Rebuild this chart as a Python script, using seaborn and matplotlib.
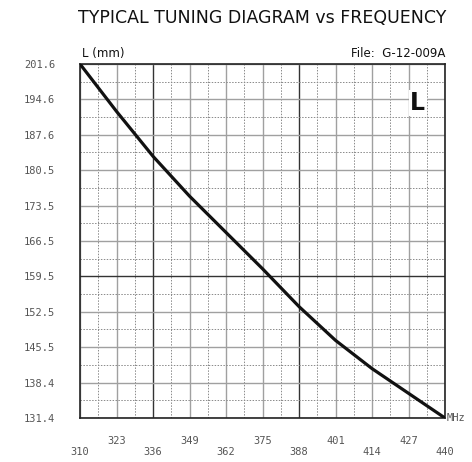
import numpy as np
import pandas as pd
import matplotlib
matplotlib.use("Agg")
import matplotlib.pyplot as plt
import seaborn as sns

# frequency (MHz) and tuning length L (mm)
freq = [310, 323, 336, 349, 362, 375, 388, 401, 414, 427, 440]
length = [201.6, 192.2, 183.3, 175.4, 168.2, 161.0, 153.5, 146.8, 141.2, 136.3, 131.4]

x_ticks = [310, 323, 336, 349, 362, 375, 388, 401, 414, 427, 440]
y_ticks = [131.4, 138.4, 145.5, 152.5, 159.5, 166.5, 173.5, 180.5, 187.6, 194.6, 201.6]

df = pd.DataFrame({"freq": freq, "length": length})

sns.set_style("white")
fig = plt.figure(figsize=(4.72, 4.62), dpi=100)
ax = fig.add_axes([0.1695, 0.0952, 0.7733, 0.7663])

# grid: solid at ticks, dotted halfway
for i, xv in enumerate(x_ticks):
    col = "#333333" if xv in (336, 388) else "#a0a0a0"
    ax.axvline(xv, color=col, lw=1.0, zorder=1)
    if i < len(x_ticks) - 1:
        ax.axvline((xv + x_ticks[i + 1]) / 2, color="#8a8a8a", lw=0.7, ls=(0, (1.5, 1.5)), zorder=1)
for i, yv in enumerate(y_ticks):
    col = "#333333" if yv == 159.5 else "#a0a0a0"
    ax.axhline(yv, color=col, lw=1.0, zorder=1)
    if i < len(y_ticks) - 1:
        ax.axhline((yv + y_ticks[i + 1]) / 2, color="#8a8a8a", lw=0.7, ls=(0, (1.5, 1.5)), zorder=1)

sns.lineplot(data=df, x="freq", y="length", color="#111111", lw=2.3, ax=ax, zorder=3)

ax.set_xlim(310, 440)
ax.set_ylim(131.4, 201.6)
ax.set_xlabel("")
ax.set_ylabel("")
for s in ax.spines.values():
    s.set_color("#222222")
    s.set_linewidth(1.2)

ax.set_yticks(y_ticks)
ax.set_yticklabels([f"{v:.1f}" for v in y_ticks], family="DejaVu Sans Mono",
                   fontsize=7.5, color="#555555")
ax.tick_params(axis="y", length=0, pad=18)
ax.set_xticks(x_ticks)
ax.set_xticklabels([])
ax.tick_params(axis="x", length=0)
for i, xv in enumerate(x_ticks):
    off = -0.095 if i % 2 == 0 else -0.065
    ax.text(xv, off, str(xv), transform=ax.get_xaxis_transform(), ha="center", va="center",
            family="DejaVu Sans Mono", fontsize=7.5, color="#555555")

ax.text(1.005, 0.0, "MHz", transform=ax.transAxes, ha="left", va="center",
        family="DejaVu Sans Mono", fontsize=7.5, color="#555555")
ax.text(0.005, 1.01, "L (mm)", transform=ax.transAxes, ha="left", va="bottom",
        fontsize=8.5, color="#111111")
ax.text(1.0, 1.01, "File:  G-12-009A", transform=ax.transAxes, ha="right", va="bottom",
        fontsize=8.5, color="#111111")
ax.text(0.925, 0.89, "L", transform=ax.transAxes, ha="center", va="center",
        fontsize=17, fontweight="bold", color="#111111", zorder=4,
        bbox=dict(facecolor="white", edgecolor="none", pad=1))
fig.text(0.555, 0.96, "TYPICAL TUNING DIAGRAM vs FREQUENCY", ha="center", va="center",
         fontsize=12.5, fontweight="medium", color="#111111")

fig.savefig("out.png", dpi=100, facecolor="white")
